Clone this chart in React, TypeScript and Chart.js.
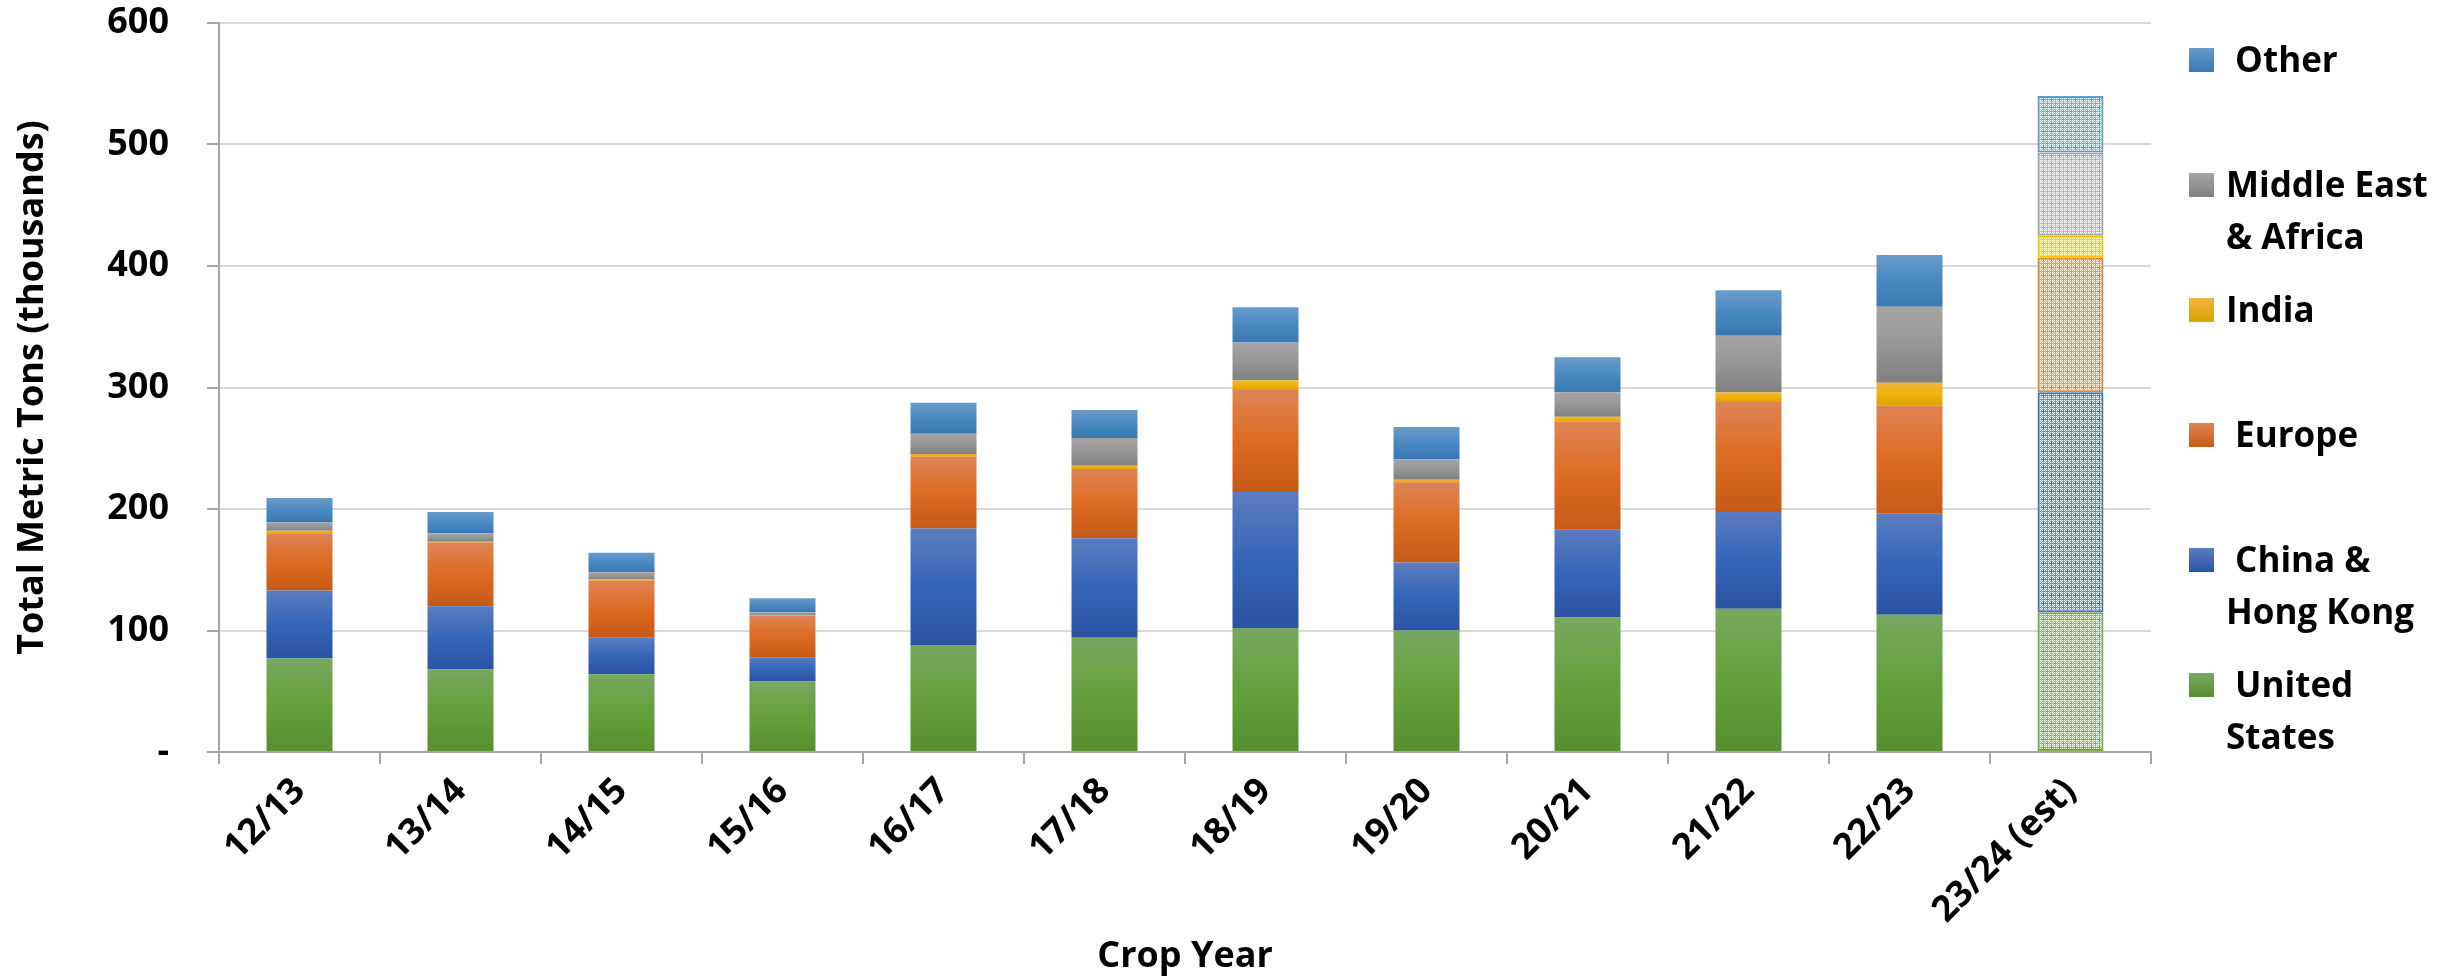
import React, { useEffect, useRef } from 'react';
import { Chart, registerables } from 'chart.js';

Chart.register(...registerables);

const categories = ['12/13', '13/14', '14/15', '15/16', '16/17', '17/18', '18/19', '19/20', '20/21', '21/22', '22/23', '23/24 (est)'];
const unitedStates = [77, 68, 64, 58, 88, 94, 102, 100, 111, 118, 113, 115];
const chinaHongKong = [56, 52, 30, 20, 96, 82, 112, 56, 72, 79.5, 83, 181];
const europe = [47, 52.5, 47, 34, 59, 57, 84, 66, 89, 90.5, 89, 111];
const india = [2, 0.5, 1, 0.3, 2.3, 2.5, 8, 2, 4, 8, 19, 18];
const middleEastAfrica = [7, 7, 6, 2.7, 16.7, 23, 31, 17, 20, 46.5, 62.5, 68.5];
const other = [20, 17.5, 16, 11.5, 25.5, 23, 29, 26.5, 29, 37.5, 42.5, 46.5];

const seriesLabels = ['United States', 'China & Hong Kong', 'Europe', 'India', 'Middle East & Africa', 'Other'];
const legendLines = [[' United', 'States'], [' China &', 'Hong Kong'], [' Europe'], ['India'], ['Middle East', '& Africa'], [' Other']];
const yTickValues = [0, 100, 200, 300, 400, 500, 600];
const estimateIndex = 11;

const topColors = ['#79a760', '#5b7cc0', '#df8455', '#edb541', '#a5a5a5', '#6a9bca'];
const midColors = ['#64a03a', '#3565b8', '#dd6b22', '#f0b10a', '#969696', '#4a88c2'];
const botColors = ['#568f2f', '#2b53a2', '#c55a17', '#dca300', '#808080', '#3a78b2'];
const lightColors = ['#a9d18e', '#8faadc', '#f4b183', '#ffd966', '#c9c9c9', '#9dc3e6'];
const edgeColors = ['#70ad47', '#4472c4', '#ed7d31', '#ffc000', '#a5a5a5', '#5b9bd5'];

const allSeries = [unitedStates, chinaHongKong, europe, india, middleEastAfrica, other];

const FONT = "'Open Sans', 'DejaVu Sans', sans-serif";

const patternCache: Record<number, CanvasPattern | null> = {};
function getPattern(ctx: CanvasRenderingContext2D, si: number) {
  if (patternCache[si]) return patternCache[si];
  const tile = document.createElement('canvas');
  tile.width = 8;
  tile.height = 8;
  const t = tile.getContext('2d')!;
  t.fillStyle = lightColors[si];
  t.fillRect(0, 0, 8, 8);
  t.fillStyle = '#ffffff';
  for (let y = 0; y < 8; y++) {
    for (let x = 0; x < 8; x++) {
      if ((x + y) % 2 === 0 && !(x === 3 || y === 3)) t.fillRect(x, y, 1, 1);
    }
  }
  t.fillStyle = edgeColors[si];
  t.fillRect(3, 1, 1, 5);
  t.fillRect(1, 3, 5, 1);
  t.globalAlpha = 0.6;
  t.fillRect(0, 7, 8, 1);
  t.fillRect(7, 0, 1, 8);
  const p = ctx.createPattern(tile, 'repeat');
  patternCache[si] = p;
  return p;
}

function makeBackground(si: number) {
  return (context: any) => {
    const chart = context.chart;
    const y = chart.scales && chart.scales.y;
    if (!y || !chart.chartArea || context.type !== 'data') return midColors[si];
    const i = context.dataIndex;
    if (i === estimateIndex) return getPattern(chart.ctx, si) || lightColors[si];
    let base = 0;
    for (let k = 0; k < si; k++) base += allSeries[k][i];
    const top = base + allSeries[si][i];
    const yTop = y.getPixelForValue(top);
    const yBot = y.getPixelForValue(base);
    if (Math.abs(yBot - yTop) < 0.5) return midColors[si];
    const g = chart.ctx.createLinearGradient(0, yTop, 0, yBot);
    g.addColorStop(0, topColors[si]);
    g.addColorStop(0.5, midColors[si]);
    g.addColorStop(1, botColors[si]);
    return g;
  };
}

const legendPlugin = {
  id: 'sideLegend',
  afterDraw(chart: any) {
    const ctx = chart.ctx as CanvasRenderingContext2D;
    const area = chart.chartArea;
    const boxX = area.right + 38;
    const textX = boxX + 37;
    const boxSize = 24;
    const firstTop = 48;
    const step = 125;
    const lineH = 52;
    ctx.save();
    ctx.font = `bold 35px ${FONT}`;
    ctx.fillStyle = '#000';
    ctx.textBaseline = 'alphabetic';
    ctx.textAlign = 'left';
    for (let k = 0; k < seriesLabels.length; k++) {
      const si = seriesLabels.length - 1 - k;
      const top = firstTop + k * step;
      const g = ctx.createLinearGradient(0, top, 0, top + boxSize);
      g.addColorStop(0, topColors[si]);
      g.addColorStop(1, botColors[si]);
      ctx.fillStyle = g;
      ctx.fillRect(boxX, top, boxSize + 1, boxSize);
      ctx.fillStyle = '#000';
      const lines = legendLines[si];
      lines.forEach((ln, j) => {
        ctx.fillText(ln, textX, top + boxSize + j * lineH);
      });
    }
    ctx.restore();
  },
};

export default function App() {
  const ref = useRef<HTMLCanvasElement | null>(null);
  useEffect(() => {
    if (!ref.current) return;
    const datasets = allSeries.map((data, si) => ({
      label: seriesLabels[si],
      data,
      backgroundColor: makeBackground(si),
      borderColor: edgeColors[si],
      borderWidth: (c: any) => (c.dataIndex === estimateIndex ? 2 : 0),
      borderSkipped: false,
      categoryPercentage: 1,
      barPercentage: 0.41,
    }));
    const chart = new Chart(ref.current, {
      type: 'bar',
      data: { labels: categories, datasets },
      options: {
        responsive: false,
        animation: false,
        events: [],
        layout: { padding: { left: 0, right: 299, top: 23, bottom: 0 } },
        plugins: { legend: { display: false }, tooltip: { enabled: false } },
        scales: {
          x: {
            stacked: true,
            afterFit: (s: any) => { s.height = 226; },
            grid: { drawOnChartArea: false, color: '#a6a6a6', lineWidth: 2, tickLength: 12, offset: true },
            border: { color: '#a6a6a6', width: 2 },
            ticks: {
              minRotation: 45,
              maxRotation: 45,
              autoSkip: false,
              padding: 6,
              color: '#000',
              font: { family: FONT, weight: 'bold', size: 36 },
            },
            title: {
              display: true,
              text: 'Crop Year',
              color: '#000',
              font: { family: FONT, weight: 'bold', size: 36 },
              padding: { top: 0, bottom: 0 },
            },
          },
          y: {
            stacked: true,
            min: 0,
            max: 600,
            afterFit: (s: any) => { s.width = 219; s.paddingTop = 0; s.paddingBottom = 0; },
            afterBuildTicks: (s: any) => { s.ticks = yTickValues.map((v) => ({ value: v })); },
            grid: { color: '#d9d9d9', lineWidth: 2, tickColor: '#a6a6a6', tickLength: 12 },
            border: { color: '#a6a6a6', width: 2 },
            ticks: {
              padding: 38,
              color: '#000',
              font: { family: FONT, weight: 'bold', size: 36 },
              callback: (v: any) => (Number(v) === 0 ? '-' : String(v)),
            },
            title: {
              display: true,
              text: 'Total Metric Tons (thousands)',
              color: '#000',
              font: { family: FONT, weight: 'bold', size: 36 },
              padding: { top: 11, bottom: 0 },
            },
          },
        },
      },
      plugins: [legendPlugin],
    } as any);
    return () => chart.destroy();
  }, []);
  return (
    <div style={{ position: 'fixed', left: 0, top: 0, width: 2450, height: 978, background: '#fff' }}>
      <canvas ref={ref} width={2450} height={978} style={{ display: 'block', width: 2450, height: 978 }} />
    </div>
  );
}
